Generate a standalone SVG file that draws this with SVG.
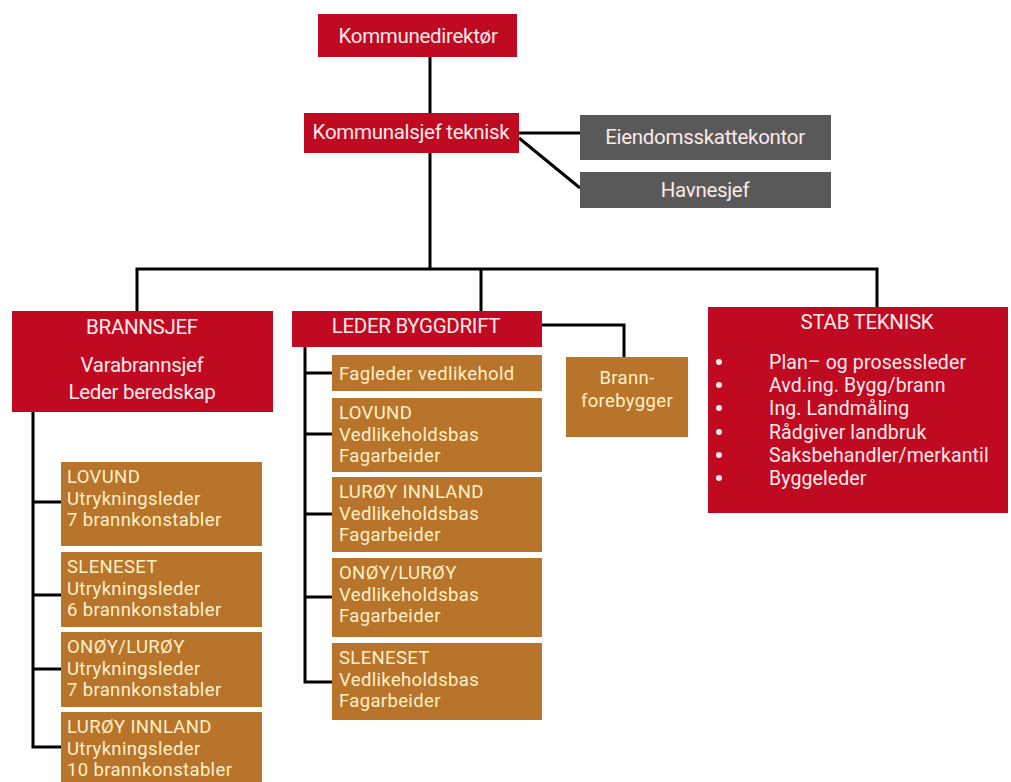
<svg xmlns="http://www.w3.org/2000/svg" width="1011" height="782" viewBox="0 0 1011 782">
<style>
.red{fill:#C00A22}
.gray{fill:#595959}
.org{fill:#B8742A}
.tw{font-family:Roboto,"Liberation Sans",sans-serif;font-size:20.5px;fill:#FBE9E9;letter-spacing:-0.3px}
.tl{font-family:Roboto,"Liberation Sans",sans-serif;font-size:19.5px;fill:#FBE9E9;letter-spacing:0.1px}
.tc{font-family:Roboto,"Liberation Sans",sans-serif;font-size:18.5px;fill:#FFF0C8;letter-spacing:0.35px}
.mid{text-anchor:middle}
.ln{fill:none;stroke:#000;stroke-width:3}
</style>
<rect width="1011" height="782" fill="#fff"/>
<g id="connectors" class="ln">
<path d="M430 57V269"/>
<path d="M519 133H580M519 138L580 188"/>
<path d="M137 311V269H877V307M481 269V311"/>
<path d="M542 325H624V357"/>
<path d="M33 412V747H61M33 502H61M33 595H61M33 669H61"/>
<path d="M305 347V682H332M305 373H332M305 434H332M305 514H332M305 597H332"/>
</g>
<g id="kommunedirektor"><rect class="red" x="318" y="14" width="199" height="43"/><text class="tw mid" x="418" y="43">Kommunedirektør</text></g>
<g id="kommunalsjef"><rect class="red" x="304" y="113" width="215" height="40"/><text class="tw mid" x="411" y="139">Kommunalsjef teknisk</text></g>
<g id="eiendom"><rect class="gray" x="580" y="115" width="251" height="45"/><text class="tw mid" x="705" y="144">Eiendomsskattekontor</text></g>
<g id="havnesjef"><rect class="gray" x="580" y="172" width="251" height="36"/><text class="tw mid" x="705" y="197">Havnesjef</text></g>
<g id="brannsjef"><rect class="red" x="12" y="311" width="261" height="101"/>
<text class="tw mid" x="142" y="334">BRANNSJEF</text>
<text class="tw mid" x="142" y="372">Varabrannsjef</text>
<text class="tw mid" x="142" y="399">Leder beredskap</text></g>
<g id="lederbyggdrift"><rect class="red" x="292" y="311" width="250" height="36"/><text class="tw mid" x="416" y="333">LEDER BYGGDRIFT</text></g>
<g id="brannforebygger"><rect class="org" x="566" y="357" width="122" height="80"/>
<text class="tc mid" x="627" y="384">Brann-</text><text class="tc mid" x="627" y="407">forebygger</text></g>
<g id="stabteknisk"><rect class="red" x="708" y="307" width="300" height="206"/>
<text class="tw mid" x="867" y="329">STAB TEKNISK</text>
<g fill="#FBE9E9"><circle cx="719" cy="362" r="3"/><circle cx="719" cy="385" r="3"/><circle cx="719" cy="408" r="3"/><circle cx="719" cy="432" r="3"/><circle cx="719" cy="455" r="3"/><circle cx="719" cy="478" r="3"/></g>
<text class="tl" x="769" y="369">Plan– og prosessleder</text>
<text class="tl" x="769" y="392.2">Avd.ing. Bygg/brann</text>
<text class="tl" x="769" y="415.4">Ing. Landmåling</text>
<text class="tl" x="769" y="438.6">Rådgiver landbruk</text>
<text class="tl" x="769" y="461.8">Saksbehandler/merkantil</text>
<text class="tl" x="769" y="485">Byggeleder</text></g>
<g id="b-lovund"><rect class="org" x="61" y="462" width="201" height="84"/>
<text class="tc" x="67" y="483">LOVUND</text><text class="tc" x="67" y="504.7">Utrykningsleder</text><text class="tc" x="67" y="526.4">7 brannkonstabler</text></g>
<g id="b-sleneset"><rect class="org" x="61" y="552" width="201" height="75"/>
<text class="tc" x="67" y="573">SLENESET</text><text class="tc" x="67" y="594.7">Utrykningsleder</text><text class="tc" x="67" y="616.4">6 brannkonstabler</text></g>
<g id="b-onoy"><rect class="org" x="61" y="632" width="201" height="75"/>
<text class="tc" x="67" y="653">ONØY/LURØY</text><text class="tc" x="67" y="674.7">Utrykningsleder</text><text class="tc" x="67" y="696.4">7 brannkonstabler</text></g>
<g id="b-luroy"><rect class="org" x="61" y="712" width="201" height="70"/>
<text class="tc" x="67" y="733">LURØY INNLAND</text><text class="tc" x="67" y="754.7">Utrykningsleder</text><text class="tc" x="67" y="776.4">10 brannkonstabler</text></g>
<g id="v-fagleder"><rect class="org" x="332" y="355" width="210" height="36"/>
<text class="tc" x="339" y="380">Fagleder vedlikehold</text></g>
<g id="v-lovund"><rect class="org" x="332" y="398" width="210" height="74"/>
<text class="tc" x="339" y="419">LOVUND</text><text class="tc" x="339" y="440.7">Vedlikeholdsbas</text><text class="tc" x="339" y="462.4">Fagarbeider</text></g>
<g id="v-luroy"><rect class="org" x="332" y="477" width="210" height="75"/>
<text class="tc" x="339" y="498">LURØY INNLAND</text><text class="tc" x="339" y="519.7">Vedlikeholdsbas</text><text class="tc" x="339" y="541.4">Fagarbeider</text></g>
<g id="v-onoy"><rect class="org" x="332" y="558" width="210" height="79"/>
<text class="tc" x="339" y="579">ONØY/LURØY</text><text class="tc" x="339" y="600.7">Vedlikeholdsbas</text><text class="tc" x="339" y="622.4">Fagarbeider</text></g>
<g id="v-sleneset"><rect class="org" x="332" y="643" width="210" height="77"/>
<text class="tc" x="339" y="664">SLENESET</text><text class="tc" x="339" y="685.7">Vedlikeholdsbas</text><text class="tc" x="339" y="707.4">Fagarbeider</text></g>
</svg>
